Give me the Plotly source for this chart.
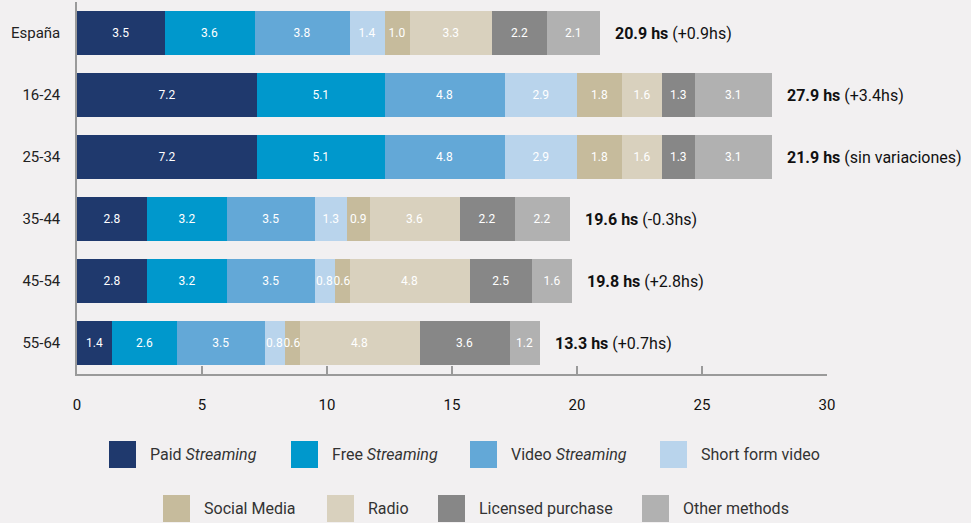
import plotly.graph_objects as go

# Age groups (top to bottom) and weekly listening hours per channel
groups = ["España", "16-24", "25-34", "35-44", "45-54", "55-64"]

paid_streaming = [3.5, 7.2, 7.2, 2.8, 2.8, 1.4]
free_streaming = [3.6, 5.1, 5.1, 3.2, 3.2, 2.6]
video_streaming = [3.8, 4.8, 4.8, 3.5, 3.5, 3.5]
short_form_video = [1.4, 2.9, 2.9, 1.3, 0.8, 0.8]
social_media = [1.0, 1.8, 1.8, 0.9, 0.6, 0.6]
radio = [3.3, 1.6, 1.6, 3.6, 4.8, 4.8]
licensed_purchase = [2.2, 1.3, 1.3, 2.2, 2.5, 3.6]
other_methods = [2.1, 3.1, 3.1, 2.2, 1.6, 1.2]

series_names = [
    "Paid <i>Streaming</i>", "Free <i>Streaming</i>", "Video <i>Streaming</i>",
    "Short form video", "Social Media", "Radio", "Licensed purchase", "Other methods",
]
series_values = [
    paid_streaming, free_streaming, video_streaming, short_form_video,
    social_media, radio, licensed_purchase, other_methods,
]
series_colors = [
    "#1f396d", "#0098cc", "#63a8d7", "#b9d4ec",
    "#c6bb9c", "#d9d1be", "#878787", "#b1b1b1",
]

# Total weekly hours and change vs previous year
total_labels = ["20.9 hs", "27.9 hs", "21.9 hs", "19.6 hs", "19.8 hs", "13.3 hs"]
change_labels = ["(+0.9hs)", "(+3.4hs)", "(sin variaciones)", "(-0.3hs)", "(+2.8hs)", "(+0.7hs)"]

x_ticks = [0, 5, 10, 15, 20, 25, 30]

FONT = "Roboto"
BG = "#f2f0f1"
AXIS = "#9a9a9a"

W, H = 971, 523
ML, MR, MT, MB = 77, 144, 2, 149
PW, PH = W - ML - MR, H - MT - MB

fig = go.Figure()
for name, vals, col in zip(series_names, series_values, series_colors):
    fig.add_trace(go.Bar(
        y=groups, x=vals, name=name, orientation="h",
        marker=dict(color=col, line=dict(width=0)),
        width=0.72,
        text=vals, texttemplate="%{x:.1f}", textposition="inside",
        insidetextanchor="middle", textangle=0,
        insidetextfont=dict(family=FONT, size=12, color="white"),
        cliponaxis=False, showlegend=False,
    ))

# Totals at the end of each stacked bar
annotations = []
for i, g in enumerate(groups):
    end = sum(v[i] for v in series_values)
    annotations.append(dict(
        x=end, y=g, xref="x", yref="y", xanchor="left", yanchor="middle",
        xshift=13, showarrow=False,
        text=f"<b>{total_labels[i]}</b> {change_labels[i]}",
        font=dict(family=FONT, size=16, color="#111111"),
    ))

# Custom legend: square swatches in two centred rows
def px_x(p):
    return (p - ML) / PW

def px_y(p):
    return (H - MB - p) / PH

legend_rows = [
    ([0, 1, 2, 3], [109, 291, 470, 660], 441),
    ([4, 5, 6, 7], [163, 327, 438, 642], 495),
]
shapes = []
for idxs, xs, top in legend_rows:
    for k, x0 in zip(idxs, xs):
        shapes.append(dict(
            type="rect", xref="paper", yref="paper",
            x0=px_x(x0), x1=px_x(x0 + 27), y0=px_y(top + 27), y1=px_y(top),
            fillcolor=series_colors[k], line=dict(width=0),
        ))
        annotations.append(dict(
            x=px_x(x0 + 39), y=px_y(top + 13.5), xref="paper", yref="paper",
            xanchor="left", yanchor="middle", showarrow=False,
            text=series_names[k],
            font=dict(family=FONT, size=16, color="#333333"),
        ))

fig.update_layout(
    barmode="stack",
    width=W, height=H,
    margin=dict(l=ML, r=MR, t=MT, b=MB, pad=0),
    paper_bgcolor=BG, plot_bgcolor=BG,
    font=dict(family=FONT),
    annotations=annotations, shapes=shapes,
    uniformtext=dict(minsize=12, mode="show"),
    xaxis=dict(
        range=[0, 30], tickvals=x_ticks, ticktext=[str(t) for t in x_ticks],
        showgrid=False, zeroline=False,
        showline=True, linecolor=AXIS, linewidth=1.5,
        ticks="inside", ticklen=8, tickwidth=1.5, tickcolor=AXIS,
        ticklabelstandoff=16,
        tickfont=dict(family=FONT, size=15, color="#111111"),
        fixedrange=True,
    ),
    yaxis=dict(
        categoryorder="array", categoryarray=groups, autorange="reversed",
        showgrid=False, zeroline=False,
        showline=True, linecolor=AXIS, linewidth=1.5,
        ticks="", ticklabelstandoff=12,
        tickfont=dict(family=FONT, size=15, color="#222222"),
        fixedrange=True,
    ),
)

fig.write_html("out.html", config={"displayModeBar": False})
